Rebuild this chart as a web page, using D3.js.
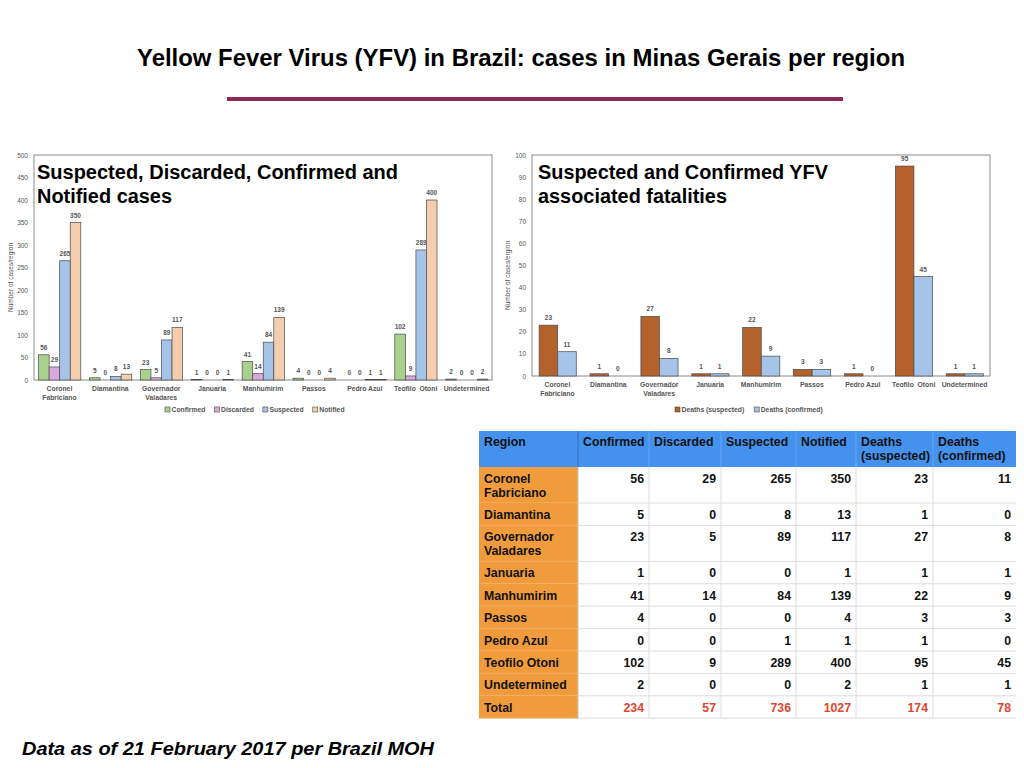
<!DOCTYPE html>
<html><head><meta charset="utf-8">
<script src="https://cdn.jsdelivr.net/npm/d3@7"></script>
<style>
html,body{margin:0;padding:0;background:#fff;}
svg{display:block;font-family:"Liberation Sans",Arial,Helvetica,sans-serif;}
</style></head>
<body>
<svg id="c" width="1024" height="768"></svg>
<script>
// ---- data ----
const regions = ["Coronel Fabriciano","Diamantina","Governador Valadares","Januaria","Manhumirim","Passos","Pedro Azul","Teofilo Otoni","Undetermined"];
const regionLines = [["Coronel","Fabriciano"],["Diamantina"],["Governador","Valadares"],["Januaria"],["Manhumirim"],["Passos"],["Pedro Azul"],["Teofilo  Otoni"],["Undetermined"]];
const tableRegionLines = [["Coronel","Fabriciano"],["Diamantina"],["Governador","Valadares"],["Januaria"],["Manhumirim"],["Passos"],["Pedro Azul"],["Teofilo Otoni"],["Undetermined"]];
const confirmed = [56,5,23,1,41,4,0,102,2];
const discarded = [29,0,5,0,14,0,0,9,0];
const suspected = [265,8,89,0,84,0,1,289,0];
const notified  = [350,13,117,1,139,4,1,400,2];
const deathsSuspected = [23,1,27,1,22,3,1,95,1];
const deathsConfirmed = [11,0,8,1,9,3,0,45,1];
const casesTicks = [0,50,100,150,200,250,300,350,400,450,500];
const deathTicks = [0,10,20,30,40,50,60,70,80,90,100];
const caseSeries = ["Confirmed","Discarded","Suspected","Notified"];
const deathSeries = ["Deaths (suspected)","Deaths (confirmed)"];
const tableHeaders = [["Region"],["Confirmed"],["Discarded"],["Suspected"],["Notified"],["Deaths","(suspected)"],["Deaths","(confirmed)"]];

const svg = d3.select("#c");

// ---- page title ----
svg.append("text").attr("x",521).attr("y",66).attr("text-anchor","middle")
  .attr("font-family","'Liberation Sans Narrow','Liberation Sans',Arial,sans-serif")
  .attr("font-weight","bold").attr("font-size",24).attr("fill","#000")
  .attr("textLength",768).attr("lengthAdjust","spacingAndGlyphs")
  .text("Yellow Fever Virus (YFV) in Brazil: cases in Minas Gerais per region");
svg.append("rect").attr("x",227).attr("y",97).attr("width",616).attr("height",4).attr("fill","#8c2a55");

// ---- footer ----
svg.append("text").attr("x",22).attr("y",755).attr("font-weight","bold").attr("font-style","italic")
  .attr("font-size",19).attr("textLength",412).attr("lengthAdjust","spacingAndGlyphs")
  .text("Data as of 21 February 2017 per Brazil MOH");

function barChart(opt){
  const g = svg.append("g");
  const x0 = d3.scaleBand().domain(regions).range([opt.left,opt.right]).padding(0);
  const bw = x0.bandwidth();
  const x1 = d3.scaleBand().domain(opt.series.map((s,i)=>i)).range([bw*opt.inner[0],bw*opt.inner[1]]).padding(0);
  const y = d3.scaleLinear().domain([0,opt.max]).range([opt.bottom,opt.top]);

  g.append("rect").attr("x",opt.left).attr("y",opt.top).attr("width",opt.right-opt.left).attr("height",opt.bottom-opt.top)
    .attr("fill","none").attr("stroke","#8a8a8a").attr("stroke-width",1);

  const ya = d3.axisLeft(y).tickValues(opt.ticks).tickSize(0).tickPadding(6);
  const yg = g.append("g").attr("transform",`translate(${opt.left},0)`).call(ya);
  yg.select(".domain").remove();
  yg.selectAll("text").attr("font-size",6.5).attr("fill","#555").attr("font-family","'Liberation Sans',Arial,sans-serif");

  g.append("text").attr("transform",`translate(${opt.ylabX},${(opt.top+opt.bottom)/2+10}) rotate(-90)`)
    .attr("text-anchor","middle").attr("font-size",6.5).attr("fill","#555").text(opt.ylab);

  regions.forEach((r,ri)=>{
    opt.series.forEach((s,si)=>{
      const v = opt.values[si][ri];
      const bx = x0(r)+x1(si);
      g.append("rect").attr("x",bx).attr("y",y(v)).attr("width",x1.bandwidth()).attr("height",y(0)-y(v))
        .attr("fill",opt.colors[si]).attr("stroke","#4a4a4a").attr("stroke-width",0.7);
      g.append("text").attr("x",bx+x1.bandwidth()/2).attr("y",y(v)-5).attr("text-anchor","middle")
        .attr("font-size",6.5).attr("font-weight","bold").attr("fill","#555").text(v);
    });
    regionLines[ri].forEach((ln,li)=>{
      g.append("text").attr("x",x0(r)+bw/2).attr("y",opt.bottom+10.5+li*9.5).attr("text-anchor","middle")
        .attr("font-size",6.8).attr("font-weight","bold").attr("fill","#555").attr("xml:space","preserve").text(ln);
    });
  });

  opt.title.forEach((t,i)=>{
    g.append("text").attr("x",opt.titleX).attr("y",opt.top+24+i*24).attr("font-size",19.5).attr("font-weight","bold")
      .attr("fill","#000").attr("textLength",opt.titleW[i]).attr("lengthAdjust","spacingAndGlyphs").text(t);
  });

  let lx = opt.legendX;
  opt.series.forEach((s,si)=>{
    g.append("rect").attr("x",lx).attr("y",opt.legendY-3).attr("width",5).attr("height",5)
      .attr("fill",opt.colors[si]).attr("stroke","#4a4a4a").attr("stroke-width",0.6);
    const t = g.append("text").attr("x",lx+6.5).attr("y",opt.legendY+2).attr("font-size",6.8).attr("font-weight","bold")
      .attr("fill","#555").text(s);
    lx += 6.5 + t.node().getComputedTextLength() + opt.legendGap;
  });
}

barChart({left:34,right:492,top:155,bottom:380,max:500,ticks:casesTicks,
  series:caseSeries,values:[confirmed,discarded,suspected,notified],
  colors:["#a9d18e","#daa8df","#a6c3e8","#f4cdae"],inner:[0.09,0.92],
  ylab:"Number of cases/region",ylabX:13,titleX:37,
  title:["Suspected, Discarded, Confirmed and","Notified cases"],titleW:[361,135],
  legendX:165,legendY:410,legendGap:9});

barChart({left:532,right:990,top:155,bottom:376,max:100,ticks:deathTicks,
  series:deathSeries,values:[deathsSuspected,deathsConfirmed],
  colors:["#b5612c","#a6c3e8"],inner:[0.14,0.87],
  ylab:"Number of cases/ergion",ylabX:510,titleX:538,
  title:["Suspected and Confirmed YFV","associated fatalities"],titleW:[290,189],
  legendX:675,legendY:410,legendGap:10});

// ---- table ----
const colX = [479,578,649,721,796,856,933,1016];
const colVals = [confirmed,discarded,suspected,notified,deathsSuspected,deathsConfirmed];
const totals = colVals.map(a=>d3.sum(a));
const tg = svg.append("g").attr("font-size",12.3).attr("font-weight","bold");
const headTop = 431, headH = 36;
tg.append("rect").attr("x",colX[0]).attr("y",headTop).attr("width",colX[7]-colX[0]).attr("height",headH).attr("fill","#4591ee");
for(let c=1;c<7;c++){
  tg.append("line").attr("x1",colX[c]).attr("x2",colX[c]).attr("y1",headTop).attr("y2",headTop+headH)
    .attr("stroke",c===1?"#3a6fb5":"#6aa6f2").attr("stroke-width",1);
}
tableHeaders.forEach((h,c)=>{
  h.forEach((t,li)=>tg.append("text").attr("x",colX[c]+5).attr("y",headTop+14.5+li*14).attr("fill","#111").text(t));
});
let yTop = headTop+headH;
const bodyRows = tableRegionLines.map((l,i)=>({lines:l,vals:colVals.map(a=>a[i]),total:false}));
bodyRows.push({lines:["Total"],vals:totals,total:true});
bodyRows.forEach(r=>{
  const h = r.lines.length>1?36:22.4;
  tg.append("rect").attr("x",colX[0]).attr("y",yTop).attr("width",colX[1]-colX[0]).attr("height",h).attr("fill","#f19c3c");
  tg.append("line").attr("x1",colX[1]).attr("x2",colX[7]).attr("y1",yTop+h).attr("y2",yTop+h).attr("stroke","#dcdcdc");
  tg.append("line").attr("x1",colX[0]).attr("x2",colX[1]).attr("y1",yTop+h).attr("y2",yTop+h).attr("stroke","#f5b877");
  r.lines.forEach((t,li)=>tg.append("text").attr("x",colX[0]+5).attr("y",yTop+16).attr("dy",li*14).attr("fill","#111").text(t));
  r.vals.forEach((v,c)=>{
    tg.append("text").attr("x",colX[c+2]-5).attr("y",yTop+16).attr("text-anchor","end")
      .attr("fill",r.total?"#e0452f":"#111").text(v);
  });
  yTop += h;
});
for(let c=2;c<7;c++){
  tg.append("line").attr("x1",colX[c]).attr("x2",colX[c]).attr("y1",headTop+headH).attr("y2",yTop)
    .attr("stroke","#dcdcdc");
}
tg.append("line").attr("x1",colX[1]).attr("x2",colX[1]).attr("y1",headTop+headH).attr("y2",yTop).attr("stroke","#c9c9c9");
</script>
</body></html>
